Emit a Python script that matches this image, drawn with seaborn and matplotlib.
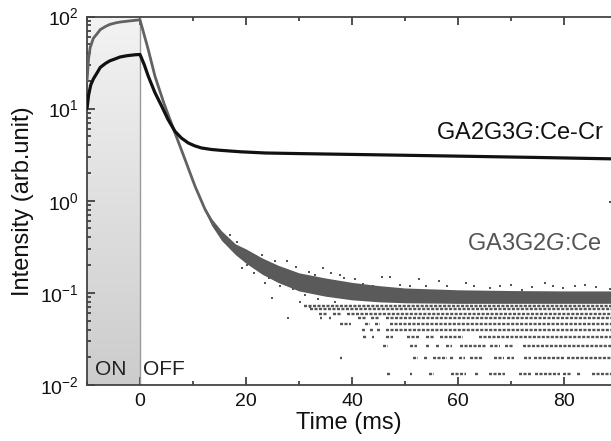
import numpy as np
import pandas as pd
import matplotlib
matplotlib.use("Agg")
import matplotlib.pyplot as plt
from matplotlib.ticker import MultipleLocator, LogLocator, NullFormatter
import seaborn as sns

# ---------------- data ----------------
# GA2G3G:Ce-Cr  (black curve)
t_black = [-10, -9.7, -9.3, -8.8, -8, -7.5, -6.5, -5.7, -4.5, -3.8, -2.5, -1, 0,
           0.8, 1.57, 2.8, 4.1, 5.3, 6.6, 7.8, 9.1, 10.3, 11.6, 13.5, 15.4, 19,
           23.6, 30, 45, 60, 75, 89]
i_black = [10, 14, 18, 21, 25, 28, 31, 33, 35, 36.3, 37.5, 38.4, 38.7,
           30, 22.4, 15, 10.6, 7.6, 5.67, 4.8, 4.24, 3.95, 3.74, 3.6, 3.52, 3.4,
           3.3, 3.25, 3.15, 3.05, 2.95, 2.85]

# GA3G2G:Ce  (grey curve, smooth part)
t_grey = [-10, -9.7, -9.4, -8.8, -8, -7.5, -6.5, -5.7, -4.5, -3.8, -2, 0,
          1.5, 2.83, 4.5, 6.6, 8.5, 10.4, 12.3, 13.8]
i_grey = [20, 35, 46, 58, 66, 72, 78, 82, 85.5, 87, 89.5, 92,
          45, 22.4, 11.5, 5.45, 2.8, 1.43, 0.8, 0.56]

# GA3G2G:Ce  noisy tail: dense band limits
t_band = [12.3, 13.5, 15.4, 18, 20, 23, 26, 30, 35, 40, 45, 50, 60, 70, 80, 89]
band_hi = [0.84, 0.64, 0.47, 0.34, 0.30, 0.24, 0.20, 0.165, 0.145, 0.13, 0.12,
           0.113, 0.108, 0.106, 0.105, 0.105]
band_lo = [0.76, 0.54, 0.37, 0.26, 0.21, 0.16, 0.13, 0.105, 0.092, 0.084, 0.08,
           0.078, 0.077, 0.077, 0.077, 0.077]

# quantised low-count levels of the noisy tail and where they are populated
level_values = [0.0132, 0.0198, 0.0264, 0.033, 0.0396, 0.0462, 0.0528, 0.0594,
                0.066, 0.0726]
seg_l2 = [(46.6, 47.2), (50.9, 51.3), (54.5, 55.5), (58.6, 61.5), (63.3, 63.8),
          (65.8, 68.9), (71.6, 73.8), (74.5, 79.2), (79.8, 81.6), (82.5, 83.2),
          (85.2, 88.9)]
seg_l3 = [(37.8, 38.2), (51.5, 52.5), (53.5, 54.3), (55.3, 57.9), (58.5, 59.2),
          (60.2, 61.3), (62.2, 64.8), (66.7, 68.6), (69.3, 70.5), (72.4, 73.7),
          (74.3, 80.0), (80.6, 88.9)]
seg_l4 = [(45.8, 46.8), (51.0, 52.3), (53.9, 54.5), (55.8, 56.5), (57.8, 58.8),
          (60.3, 65.3), (66.0, 67.9), (68.9, 70.4), (72.3, 88.9)]
seg_l5 = [(42.0, 42.8), (43.8, 44.2), (46.5, 47.7), (50.3, 52.8), (54.0, 55.5),
          (56.6, 61.0), (63.9, 88.9)]
seg_l6 = [(41.8, 42.5), (43.4, 44.0), (44.7, 45.3), (46.5, 88.9)]
seg_l7 = [(37.7, 39.9), (42.5, 43.4), (44.3, 45.3), (47.2, 88.9)]
seg_l8 = [(34.0, 34.4), (35.7, 36.1), (41.2, 42.8), (43.5, 45.2), (46.4, 88.9)]
seg_l9 = [(33.8, 35.2), (36.5, 38.0), (39.0, 88.9)]
seg_l10 = [(32.0, 88.9)]
seg_l11 = [(31.0, 88.9)]
level_segments = [seg_l2, seg_l3, seg_l4, seg_l5, seg_l6, seg_l7, seg_l8,
                  seg_l9, seg_l10, seg_l11]

# isolated points of the noisy tail
out_t = [23.0, 25.5, 27.7, 34.6, 36.0, 37.7, 45.6, 47.2, 52.6, 56.4, 61.6, 66.0,
         72.0, 76.5, 79.9, 88.7, 88.7, 19.2, 20.1, 23.6, 25.0, 27.9, 30.2, 32.0,
         42.0, 44.0, 49.0, 51.0, 54.0, 58.0, 63.0, 68.0, 70.0, 74.0, 78.0, 82.0,
         84.0, 86.0, 40.5, 38.5, 21.5, 24.3, 26.5, 28.8, 31.2, 33.5, 17.0, 18.3,
         29.5, 31.8, 33.0, 36.8]
out_i = [0.26, 0.22, 0.22, 0.185, 0.166, 0.157, 0.15, 0.15, 0.142, 0.134, 0.127,
         0.113, 0.108, 0.128, 0.113, 0.96, 0.11, 0.185, 0.2, 0.128, 0.088, 0.053,
         0.08, 0.07, 0.125, 0.12, 0.123, 0.118, 0.12, 0.118, 0.12, 0.118, 0.122,
         0.117, 0.12, 0.118, 0.122, 0.116, 0.14, 0.145, 0.165, 0.145, 0.12, 0.11,
         0.095, 0.085, 0.42, 0.36, 0.19, 0.17, 0.155, 0.08]

label_black = "GA2G3$\\mathit{G}$:Ce-Cr"
label_grey = "GA3G2$\\mathit{G}$:Ce"

# ---------------- style ----------------
sns.set_theme(style="ticks")
plt.rcParams["font.family"] = ["Liberation Sans", "DejaVu Sans"]
plt.rcParams["mathtext.fontset"] = "custom"
plt.rcParams["mathtext.rm"] = "Liberation Sans"
plt.rcParams["mathtext.it"] = "Liberation Sans:italic"
plt.rcParams["mathtext.default"] = "regular"

GREY = "#626262"
DOT = "#555555"

fig = plt.figure(figsize=(6.11, 4.41), dpi=100)
ax = fig.add_axes([87 / 611, 1 - 385 / 441, (611 - 87) / 611, (385 - 16.5) / 441])
ax.set_yscale("log")
ax.set_xlim(-10, 88.87)
ax.set_ylim(1e-2, 1e2)

# shaded "ON" region with vertical gradient
edges = np.logspace(-2, 2, 81)
for k in range(80):
    g = 0.80 + 0.15 * (k / 79)
    ax.fill_between([-10, 0], edges[k], edges[k + 1], color=(g, g, g), lw=0, zorder=0)
ax.axvline(0, color="#9a9a9a", lw=1.0, zorder=1)

# noisy tail
ax.fill_between(t_band, band_lo, band_hi, color="#5a5a5a", lw=0, zorder=2)
for lv, segs in zip(level_values, level_segments):
    for a, b in segs:
        ax.plot([a, b], [lv, lv], color=DOT, lw=1.7, linestyle=(0, (1.3, 0.6)),
                zorder=2)
sns.scatterplot(x=out_t, y=out_i, ax=ax, color=DOT, marker="s", s=2.4,
                linewidth=0, zorder=2)

# curves
sns.lineplot(x=t_grey, y=i_grey, ax=ax, color=GREY, lw=2.0, estimator=None,
             sort=False, zorder=3)
sns.lineplot(x=t_black, y=i_black, ax=ax, color="#111111", lw=2.3, estimator=None,
             sort=False, zorder=4)

# texts
ax.text(-8.5, 0.0128, "ON", fontsize=15, color="#222222", va="baseline", ha="left")
ax.text(0.6, 0.0128, "OFF", fontsize=15, color="#222222", va="baseline", ha="left")
ax.text(87.6, 4.72, label_black, fontsize=17, color="#111111", ha="right",
        va="baseline")
ax.text(87.2, 0.293, label_grey, fontsize=17, color="#555555", ha="right",
        va="baseline")

# axes decoration
ax.xaxis.set_major_locator(MultipleLocator(20))
ax.xaxis.set_minor_locator(MultipleLocator(10))
ax.yaxis.set_major_locator(LogLocator(base=10, numticks=10))
ax.yaxis.set_minor_locator(LogLocator(base=10, subs=np.arange(2, 10), numticks=10))
ax.yaxis.set_minor_formatter(NullFormatter())
ax.tick_params(which="both", direction="in", top=True, right=False,
               color="#333333", width=1.2, labelsize=14, labelcolor="#111111")
ax.tick_params(which="major", length=6, pad=6)
ax.tick_params(which="minor", length=3)
for side in ["left", "bottom", "top"]:
    ax.spines[side].set_color("#444444")
    ax.spines[side].set_linewidth(1.3)
ax.spines["right"].set_visible(False)
ax.set_xlabel("Time (ms)", fontsize=17, labelpad=1, color="#111111")
ax.set_ylabel("Intensity (arb.unit)", fontsize=17, labelpad=4, color="#111111")

fig.savefig("out.png", dpi=100)
